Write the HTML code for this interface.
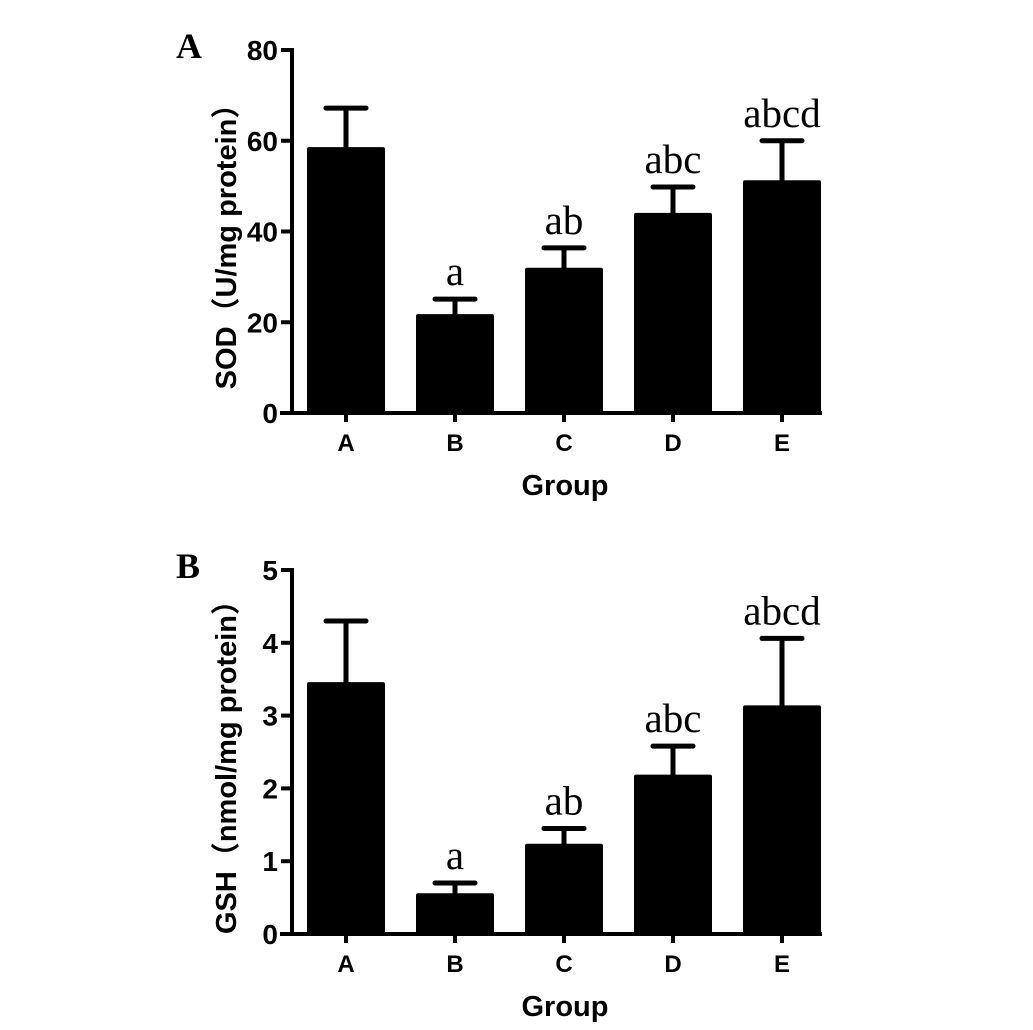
<!DOCTYPE html>
<html><head><meta charset="utf-8"><style>
body{margin:0;background:#fff}
svg{display:block}
.t{font-family:"Liberation Sans",Arial,"Noto Sans CJK SC",sans-serif;font-weight:bold;font-size:24px}
.s{font-family:"Liberation Serif","Times New Roman",serif;font-size:41px}
</style></head><body>
<svg id="c" width="1033" height="1030" xmlns="http://www.w3.org/2000/svg">
<text x="176" y="58" font-family="Liberation Serif,serif" font-weight="bold" font-size="36">A</text>
<text x="176" y="578" font-family="Liberation Serif,serif" font-weight="bold" font-size="36">B</text>
</svg>
<script>
const categories=["A","B","C","D","E"];
const sodValues=[58.6,21.8,32.0,44.1,51.3];
const sodErrors=[8.6,3.3,4.4,5.7,8.7];
const sodSig=["","a","ab","abc","abcd"];
const sodTicks=[0,20,40,60,80];
const gshValues=[3.46,0.56,1.24,2.19,3.14];
const gshErrors=[0.84,0.14,0.21,0.39,0.92];
const gshSig=["","a","ab","abc","abcd"];
const gshTicks=[0,1,2,3,4,5];

const svg=document.getElementById('c');
const NS="http://www.w3.org/2000/svg";
function mk(tag,attrs,parent){const e=document.createElementNS(NS,tag);for(const k in attrs)e.setAttribute(k,attrs[k]);(parent||svg).appendChild(e);return e;}

function panel(p){
  const g=mk('g',{});
  
  
  const y=v=>p.y0-(v-p.min)/(p.max-p.min)*(p.y0-p.y1);
  const x=i=>346+i*109;
  const bw=78;
  categories.forEach((c,i)=>{
    const top=y(p.vals[i]), et=y(p.vals[i]+p.errs[i]);
    const eb=mk('line',{x1:x(i),x2:x(i),y1:et,y2:top+1,stroke:'#000','stroke-width':5},g);
    
    
    const cap=mk('line',{x1:x(i)-20,x2:x(i)+20,y1:et,y2:et,stroke:'#000','stroke-width':5,'stroke-linecap':'round'},g);
    
    
    const r=mk('rect',{x:x(i)-bw/2,y:top,width:bw,height:p.y0-top,fill:'#000',rx:2},g);
    
    
    if(p.sig[i]){
      const s=mk('text',{x:x(i),y:et-14,'text-anchor':'middle',class:'s'},g);
      s.textContent=p.sig[i];
      
      
    }
    const tk=mk('line',{x1:x(i),x2:x(i),y1:p.y0,y2:p.y0+9,stroke:'#000','stroke-width':4},g);
    
    
    const tl=mk('text',{x:x(i),y:p.y0+38,'text-anchor':'middle',class:'t'},g);
    tl.textContent=c;
    
    
  });
  const ya=mk('line',{x1:292,x2:292,y1:p.y1-2,y2:p.y0+2,stroke:'#000','stroke-width':4},g);
  
  
  const xa=mk('line',{x1:280,x2:822,y1:p.y0,y2:p.y0,stroke:'#000','stroke-width':4},g);
  
  
  p.ticks.forEach(t=>{
    const l=mk('line',{x1:281,x2:292,y1:y(t),y2:y(t),stroke:'#000','stroke-width':4},g);
    
    
    const tx=mk('text',{x:278,y:y(t)+10,'text-anchor':'end',class:'t'},g);
    tx.style.fontSize='28px';
    tx.textContent=t;
    
    
  });
  const cy=(p.y0+p.y1)/2+8;
  const yt=mk('text',{x:0,y:0,'text-anchor':'middle',class:'t',transform:`translate(236,${cy}) rotate(-90)`},g);
  yt.style.fontSize='29px';
  yt.textContent=p.ylabel;
  
  
  const xt=mk('text',{x:565,y:p.y0+82,'text-anchor':'middle',class:'t'},g);
  xt.style.fontSize='29px';
  xt.textContent='Group';
  
  
}
panel({name:'sod-chart',vals:sodValues,errs:sodErrors,sig:sodSig,ticks:sodTicks,min:0,max:80,y0:413,y1:50,ylabel:'SOD\uFF08U/mg protein\uFF09'});
panel({name:'gsh-chart',vals:gshValues,errs:gshErrors,sig:gshSig,ticks:gshTicks,min:0,max:5,y0:934,y1:570,ylabel:'GSH\uFF08nmol/mg protein\uFF09'});
</script>
</body></html>
